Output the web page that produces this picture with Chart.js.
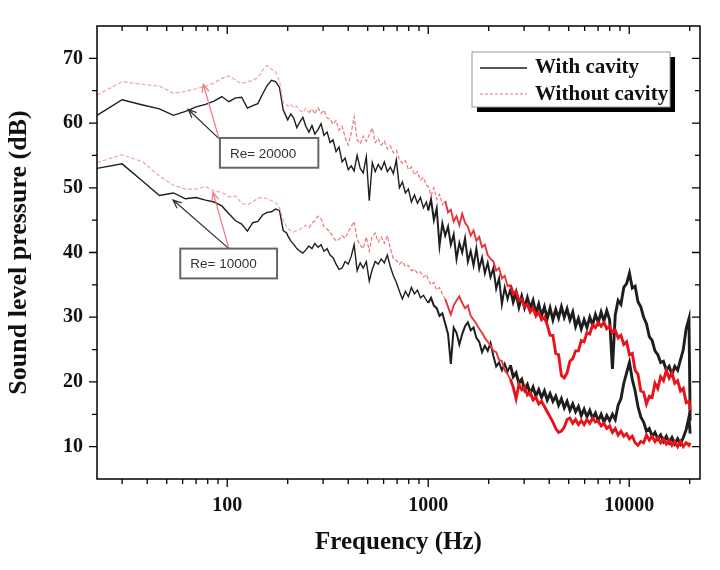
<!DOCTYPE html>
<html>
<head>
<meta charset="utf-8">
<script src="https://cdn.jsdelivr.net/npm/chart.js@4.4.1/dist/chart.umd.min.js"></script>
<style>
  body { margin: 0; background: #fff; }
  #wrap { width: 720px; height: 570px; }
</style>
</head>
<body>
<div id="wrap"><canvas id="chart" width="720" height="570"></canvas></div>
<script>
// Frecuencias comunes a las cuatro curvas (Hz)
const freqHz = [
  22.5, 30, 38, 46, 54, 62, 70, 78, 86, 94,
  102, 110, 118, 126, 134, 142, 150, 158, 166, 174,
  182, 190, 198, 200, 207, 214, 222, 230, 238, 246,
  255, 264, 273, 283, 293, 303, 314, 325, 336, 348,
  360, 373, 386, 400, 414, 428, 443, 459, 475, 492,
  509, 527, 545, 564, 584, 605, 626, 648, 671, 694,
  719, 744, 770, 797, 825, 854, 884, 915, 947, 980,
  1000, 1033, 1067, 1102, 1138, 1176, 1215, 1255, 1296, 1339,
  1383, 1429, 1476, 1525, 1575, 1627, 1681, 1736, 1794, 1853,
  1914, 1977, 2042, 2110, 2179, 2251, 2326, 2402, 2482, 2564,
  2648, 2736, 2826, 2919, 3016, 3115, 3218, 3324, 3434, 3547,
  3664, 3785, 3910, 4039, 4173, 4310, 4453, 4600, 4751, 4908,
  5070, 5238, 5410, 5589, 5774, 5964, 6161, 6365, 6575, 6792,
  7016, 7248, 7487, 7734, 7989, 8253, 8525, 8807, 9097, 9398,
  9708, 10028, 10359, 10701, 11054, 11419, 11796, 12185, 12587, 13003,
  13432, 13875, 14333, 14806, 15294, 15799, 16320, 16859, 17415, 17990,
  18584, 19197, 19831, 20100
];

// Re = 20000
const withCavity20k = [
  61.2, 63.6, 62.8, 62.2, 61.2, 61.8, 62.5, 62.9, 63.4, 64.1,
  63.3, 63.9, 64.0, 62.3, 62.7, 63.0, 64.5, 65.8, 66.6, 66.4,
  65.5, 62.0, 60.8, 60.5, 61.4, 60.8, 59.3, 60.2, 60.9, 59.5,
  58.6, 59.6, 58.3, 59.0, 59.9, 58.1, 58.6, 57.0, 57.4, 55.6,
  56.3, 54.0, 54.6, 52.8, 53.4, 52.6, 55.0, 53.0, 52.3, 54.8,
  48.0, 53.9, 52.5, 53.6, 52.8, 54.0, 52.5, 53.2, 52.2, 54.3,
  50.0, 50.9, 49.2, 49.8, 47.8, 48.9, 47.6, 48.5, 46.9, 47.8,
  46.5, 48.2, 45.0, 46.8, 41.0, 44.5, 42.6, 44.0, 41.2, 42.8,
  39.0, 41.5, 40.0, 42.2, 38.6, 40.2, 38.0, 40.6, 37.5, 39.2,
  36.8, 38.4, 36.2, 37.6, 34.4, 36.0, 32.0, 34.6, 32.8, 34.4,
  32.4, 33.8, 31.6, 33.2, 31.5, 33.0, 31.4, 32.6, 30.6, 32.0,
  30.2, 31.6, 29.8, 31.4, 29.6, 31.2, 29.9, 31.6, 30.0, 31.3,
  29.6, 30.8, 28.6, 29.8, 28.2, 29.6, 28.4, 30.0, 28.8, 30.4,
  29.2, 30.8, 29.4, 31.0, 29.6, 22.0, 30.4, 32.6, 32.0, 34.6,
  35.2, 36.8, 34.5, 34.8, 32.4, 31.6, 30.0, 29.0, 27.0, 26.4,
  24.8, 24.2, 23.0, 23.2, 21.8, 22.4, 21.2, 22.4, 21.8, 23.4,
  25.0, 28.2, 29.8, 14.0
];
const withoutCavity20k = [
  64.3, 66.4, 66.0, 65.7, 64.6, 64.9, 65.3, 65.7, 66.2, 66.9,
  67.3, 66.6, 66.1, 66.4, 66.6, 67.0, 68.2, 68.9, 68.3, 67.9,
  66.5, 63.2, 62.8, 62.6, 62.9, 62.4, 62.6, 61.9, 61.7, 62.3,
  61.6, 62.2, 61.4, 62.4, 61.5, 62.0, 60.8, 60.6, 59.8, 60.4,
  58.9, 59.5, 57.8, 56.6, 58.5, 61.0, 57.4, 56.8, 58.0, 57.2,
  58.2, 59.2, 57.0, 57.6, 56.6, 57.2, 56.0, 56.5, 55.4, 55.8,
  54.4, 53.8, 54.2, 52.8, 53.2, 52.0, 52.5, 51.2, 51.6, 50.4,
  50.2, 48.8, 50.0, 48.2, 49.0, 47.4, 48.0, 46.2, 46.6, 44.8,
  45.6, 44.2, 46.0, 44.6, 44.0, 42.6, 43.4, 41.8, 42.4, 40.8,
  41.2, 39.6, 39.0, 38.6, 37.2, 37.6, 36.0, 36.4, 34.8, 35.0,
  33.6, 34.0, 32.6, 32.8, 31.6, 32.0, 30.8, 31.4, 30.2, 30.8,
  29.6, 30.0, 28.8, 27.2, 27.2, 24.4, 24.2, 21.0, 20.6, 21.4,
  23.2, 23.6, 24.8, 24.8, 26.4, 26.2, 27.6, 27.4, 28.8, 28.4,
  29.2, 28.6, 29.2, 28.2, 28.6, 27.6, 28.0, 26.8, 27.2, 25.8,
  26.2, 24.2, 24.4, 21.8, 21.2, 18.6, 18.4, 16.6, 17.8, 17.6,
  19.8, 19.0, 20.8, 20.2, 21.8, 20.6, 21.4, 19.8, 20.2, 18.6,
  19.0, 16.8, 17.0, 15.6
];

// Re = 10000
const withCavity10k = [
  53.0, 53.7, 51.0, 48.8, 49.2, 48.3, 48.5, 48.1, 47.8, 47.2,
  46.0, 44.9, 44.4, 43.3, 44.6, 44.8, 45.8, 46.2, 46.3, 46.7,
  46.5, 43.4, 43.0, 42.6, 41.8, 41.3, 40.6, 40.2, 39.9, 40.4,
  41.0, 40.6, 41.4, 40.8, 41.2, 40.2, 40.6, 39.6, 39.2, 38.2,
  37.4, 37.6, 38.6, 38.2, 39.4, 41.2, 37.2, 38.4, 37.6, 38.6,
  35.6, 37.4, 38.6, 38.2, 39.0, 38.4, 39.6, 37.8, 36.4, 35.4,
  34.0, 32.8, 34.0, 33.2, 34.6, 33.6, 34.2, 33.0, 33.4, 32.6,
  32.2, 33.0, 31.8, 31.4, 30.2, 30.6, 29.0, 27.4, 22.8, 28.4,
  27.6, 25.8, 27.4, 28.6, 29.2, 28.0, 28.4, 26.8, 26.2, 24.6,
  25.6, 24.8, 26.0, 24.0, 22.4, 23.0, 21.8, 22.8, 21.6, 22.6,
  20.8, 21.4, 19.8, 20.4, 18.8, 19.6, 18.2, 19.2, 17.8, 18.8,
  17.6, 18.6, 17.2, 18.2, 17.0, 17.8, 16.4, 17.4, 16.0, 17.0,
  15.6, 16.6, 15.4, 16.2, 14.8, 15.8, 14.6, 15.6, 14.4, 15.2,
  14.0, 15.0, 13.8, 14.8, 14.0, 15.0, 14.2, 16.4, 17.4, 19.8,
  21.4, 23.0, 20.4, 18.6, 16.2, 14.6, 13.8, 12.4, 12.8, 11.6,
  12.2, 11.2, 11.8, 10.8, 11.6, 10.6, 11.4, 10.4, 11.2, 10.4,
  11.4, 12.6, 14.6, 12.0
];
const withoutCavity10k = [
  53.9, 55.1, 54.0, 51.8, 50.4, 49.8, 49.8, 50.2, 49.5, 49.3,
  48.6, 48.7, 47.6, 47.4, 47.8, 48.4, 48.5, 48.3, 48.0, 47.7,
  46.9, 45.0, 43.9, 43.7, 43.4, 43.2, 43.4, 43.6, 43.9, 44.2,
  43.8, 44.6, 44.9, 45.6, 45.2, 44.0, 43.6, 43.2, 42.4, 41.8,
  42.0, 42.6, 42.2, 43.2, 44.0, 44.8, 42.0, 41.2, 40.6, 42.4,
  40.2, 42.6, 43.0, 41.6, 42.4, 41.4, 42.6, 40.6, 39.0, 38.8,
  38.2, 38.6, 37.8, 38.0, 37.2, 37.4, 36.8, 37.0, 36.2, 36.6,
  35.8, 35.0, 35.4, 34.2, 34.6, 33.6, 32.8, 31.6, 30.4, 31.8,
  32.6, 33.2, 32.2, 31.4, 31.8, 30.2, 29.6, 29.0, 28.2, 27.6,
  26.8, 26.2, 25.6, 24.8, 24.6, 23.4, 23.2, 21.8, 21.2, 20.4,
  19.2, 17.4, 19.6, 18.8, 19.2, 18.0, 18.4, 17.2, 17.6, 16.6,
  17.0, 16.2, 15.4, 14.6, 13.8, 12.8, 12.2, 12.4, 13.0, 14.2,
  14.4, 13.6, 14.2, 13.4, 14.0, 13.4, 14.2, 13.6, 14.4, 13.8,
  14.0, 13.2, 13.6, 12.8, 13.2, 12.2, 12.8, 11.8, 12.4, 11.6,
  12.0, 11.2, 11.6, 10.6, 10.2, 10.8, 10.6, 11.8, 11.0, 11.6,
  10.8, 11.4, 10.6, 11.2, 10.4, 11.0, 10.2, 10.8, 10.0, 10.8,
  10.0, 10.6, 10.2, 10.6
];

const xTickValues = [100, 1000, 10000];
const yTickValues = [10, 20, 30, 40, 50, 60, 70];
const legendLabels = ['With cavity', 'Without cavity'];
const reLabels = ['Re= 20000', 'Re= 10000'];

const SERIF = '"Liberation Serif", "Times New Roman", serif';
const toPoints = vals => vals.map((v, i) => ({ x: freqHz[i], y: v }));

// estilo por tramo: fino a baja frecuencia, banda gruesa a alta
const blackSeg = {
  borderWidth: c => c.p0.parsed.x < 1000 ? 1.4 : (c.p0.parsed.x < 2500 ? 2 : 2.9)
};
const redSeg = {
  borderColor: c => c.p0.parsed.x < 250 ? '#efa3aa' : (c.p0.parsed.x < 1200 ? '#e9787e' : (c.p0.parsed.x < 2500 ? '#e8343b' : '#e8141b')),
  borderWidth: c => c.p0.parsed.x < 1200 ? 1.2 : (c.p0.parsed.x < 2500 ? 1.9 : 2.9),
  borderDash: c => c.p0.parsed.x < 1200 ? [4, 2] : []
};

function lineSet(label, vals, black) {
  return {
    label,
    data: toPoints(vals),
    borderColor: black ? '#1e1e1e' : '#e8141b',
    borderWidth: 1.4,
    pointRadius: 0,
    tension: 0,
    fill: false,
    order: black ? 1 : 0,
    segment: black ? blackSeg : redSeg
  };
}

// cajas "Re=" y flechas, en unidades de datos
const notes = [
  { text: reLabels[0], box: [92, 57.7, 284, 53.1], from: [91, 57.6], black: [64, 62.1], red: [76, 66.0] },
  { text: reLabels[1], box: [58.4, 40.6, 177, 36.0], from: [102, 40.6], black: [53.8, 48.1], red: [85, 49.3] }
];

function arrow(ctx, x0, y0, x1, y1, color) {
  ctx.strokeStyle = color;
  ctx.lineWidth = 1.3;
  ctx.beginPath();
  ctx.moveTo(x0, y0);
  ctx.lineTo(x1, y1);
  const ang = Math.atan2(y1 - y0, x1 - x0);
  const len = 9;
  ctx.moveTo(x1 - len * Math.cos(ang - 0.4), y1 - len * Math.sin(ang - 0.4));
  ctx.lineTo(x1, y1);
  ctx.lineTo(x1 - len * Math.cos(ang + 0.4), y1 - len * Math.sin(ang + 0.4));
  ctx.stroke();
}

const decor = {
  id: 'decor',
  afterDatasetsDraw(chart) {
    const { ctx, chartArea: a, scales: { x, y } } = chart;
    ctx.save();

    // marco
    ctx.strokeStyle = '#000';
    ctx.lineWidth = 1.5;
    ctx.strokeRect(a.left, a.top, a.right - a.left, a.bottom - a.top);

    // marcas del eje x (fuera abajo, dentro arriba)
    ctx.lineWidth = 1.3;
    ctx.beginPath();
    for (let d = 1; d <= 4; d++) {
      for (let k = 1; k <= 9; k++) {
        const v = k * Math.pow(10, d);
        if (v < x.min || v > x.max) continue;
        const px = x.getPixelForValue(v);
        const len = k === 1 ? 8 : 5;
        ctx.moveTo(px, a.bottom); ctx.lineTo(px, a.bottom + len);
        ctx.moveTo(px, a.top); ctx.lineTo(px, a.top + len);
      }
    }
    // marcas del eje y
    for (let v = 10; v <= 70; v += 5) {
      const py = y.getPixelForValue(v);
      const len = v % 10 === 0 ? 8 : 5;
      ctx.moveTo(a.left, py); ctx.lineTo(a.left - len, py);
      ctx.moveTo(a.right, py); ctx.lineTo(a.right - len, py);
    }
    ctx.stroke();

    // anotaciones
    notes.forEach(n => {
      const bx0 = x.getPixelForValue(n.box[0]), by0 = y.getPixelForValue(n.box[1]);
      const bx1 = x.getPixelForValue(n.box[2]), by1 = y.getPixelForValue(n.box[3]);
      const fx = x.getPixelForValue(n.from[0]), fy = y.getPixelForValue(n.from[1]);
      arrow(ctx, fx, fy, x.getPixelForValue(n.black[0]), y.getPixelForValue(n.black[1]), '#333');
      arrow(ctx, fx, fy, x.getPixelForValue(n.red[0]), y.getPixelForValue(n.red[1]), '#ec7f88');
      ctx.fillStyle = '#fff';
      ctx.fillRect(bx0, by0, bx1 - bx0, by1 - by0);
      ctx.strokeStyle = '#666';
      ctx.lineWidth = 2;
      ctx.strokeRect(bx0, by0, bx1 - bx0, by1 - by0);
      ctx.fillStyle = '#333';
      ctx.font = '13.5px "Liberation Sans", Arial, sans-serif';
      ctx.textBaseline = 'middle';
      ctx.textAlign = 'left';
      ctx.fillText(n.text, bx0 + 10, (by0 + by1) / 2 + 1);
    });

    // leyenda con sombra
    const lx = a.right - 228, ly = a.top + 26, lw = 198, lh = 55;
    ctx.fillStyle = '#000';
    ctx.fillRect(lx + 5, ly + 5, lw, lh);
    ctx.fillStyle = '#fff';
    ctx.fillRect(lx, ly, lw, lh);
    ctx.strokeStyle = '#999';
    ctx.lineWidth = 1;
    ctx.strokeRect(lx, ly, lw, lh);
    ctx.lineWidth = 1.4;
    ctx.strokeStyle = '#1e1e1e';
    ctx.beginPath(); ctx.moveTo(lx + 8, ly + 16); ctx.lineTo(lx + 55, ly + 16); ctx.stroke();
    ctx.strokeStyle = '#efa3aa';
    ctx.setLineDash([3, 2]);
    ctx.beginPath(); ctx.moveTo(lx + 8, ly + 42); ctx.lineTo(lx + 55, ly + 42); ctx.stroke();
    ctx.setLineDash([]);
    ctx.fillStyle = '#111';
    ctx.font = 'bold 21px ' + SERIF;
    ctx.textBaseline = 'middle';
    ctx.fillText(legendLabels[0], lx + 63, ly + 16);
    ctx.fillText(legendLabels[1], lx + 63, ly + 43);

    ctx.restore();
  }
};

new Chart(document.getElementById('chart'), {
  type: 'line',
  data: {
    datasets: [
      lineSet(legendLabels[0] + ' (Re=20000)', withCavity20k, true),
      lineSet(legendLabels[1] + ' (Re=20000)', withoutCavity20k, false),
      lineSet(legendLabels[0] + ' (Re=10000)', withCavity10k, true),
      lineSet(legendLabels[1] + ' (Re=10000)', withoutCavity10k, false)
    ]
  },
  options: {
    responsive: false,
    animation: false,
    layout: { padding: { top: 17, right: 20, left: 0, bottom: 0 } },
    plugins: { legend: { display: false }, tooltip: { enabled: false } },
    scales: {
      x: {
        type: 'logarithmic',
        min: 22.5,
        max: 22500,
        afterBuildTicks: s => { s.ticks = xTickValues.map(v => ({ value: v })); },
        afterFit: s => { s.height = 91; },
        grid: { display: false, drawTicks: false },
        border: { display: false },
        ticks: {
          padding: 15,
          color: '#111',
          maxRotation: 0,
          font: { family: SERIF, size: 20, weight: 'bold' },
          callback: v => String(v)
        },
        title: {
          display: true,
          text: 'Frequency (Hz)',
          color: '#111',
          font: { family: SERIF, size: 25, weight: 'bold' },
          padding: { top: 0, bottom: 12 }
        }
      },
      y: {
        min: 5,
        max: 75,
        afterBuildTicks: s => { s.ticks = yTickValues.map(v => ({ value: v })); },
        afterFit: s => { s.width = 97; },
        grid: { display: false, drawTicks: false },
        border: { display: false },
        ticks: {
          padding: 14,
          color: '#111',
          font: { family: SERIF, size: 20, weight: 'bold' }
        },
        title: {
          display: true,
          text: 'Sound level pressure (dB)',
          color: '#111',
          font: { family: SERIF, size: 26, weight: 'bold' },
          padding: { top: 4, bottom: 0 }
        }
      }
    }
  },
  plugins: [decor]
});
</script>
</body>
</html>
